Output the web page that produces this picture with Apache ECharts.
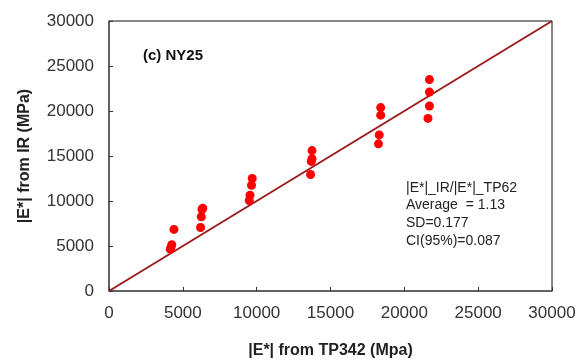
<!DOCTYPE html>
<html><head><meta charset="utf-8">
<script src="https://cdn.jsdelivr.net/npm/echarts@6/dist/echarts.min.js"></script>
<style>html,body{margin:0;padding:0;background:#fff}#c{width:588px;height:364px}</style>
</head><body><div id="c"></div>
<script>
var tp342 = [4400,4250,4200,4150, 6350,6300,6250,6200, 9700,9650,9550,9500, 13750,13750,13700,13650, 18400,18400,18300,18250, 21700,21700,21700,21600];
var irValues = [6840,5150,4850,4650, 9200,9050,8250,7050, 12500,11750,10650,10050, 15600,14700,14400,12950, 20380,19540,17340,16350, 23490,22100,20560,19180];
var lineOfEquality = [[0,0],[30000,30000]];
var axisTicks = [0,5000,10000,15000,20000,25000,30000];
var panelLabel = '(c) NY25';
var statsLines = ['|E*|_IR/|E*|_TP62','Average  = 1.13','SD=0.177','CI(95%)=0.087'];

var pts = tp342.map(function(x,i){return [x, irValues[i]];});
var chart = echarts.init(document.getElementById('c'));
var font = 'Liberation Sans, Arial, sans-serif';
var axisCommon = {
  min: axisTicks[0], max: axisTicks[axisTicks.length-1], interval: 5000,
  axisLine: {show: true, onZero: false, lineStyle: {color: '#555', width: 1.5}},
  axisTick: {show: true, inside: true, length: 4, lineStyle: {color: '#333'}},
  splitLine: {show: false},
  axisLabel: {color: '#333', fontSize: 17, fontFamily: font, formatter: function(v){return String(v);}},
  nameTextStyle: {color: '#222', fontSize: 16, fontWeight: 'bold', fontFamily: font}
};
chart.setOption({
  animation: false,
  grid: {left: 109, right: 36, top: 21, bottom: 70, show: true, borderColor: '#111', borderWidth: 1},
  xAxis: Object.assign({}, axisCommon, {type: 'value', name: '|E*| from TP342 (Mpa)', nameLocation: 'middle', nameGap: 52,
    axisLabel: Object.assign({}, axisCommon.axisLabel, {margin: 14})}),
  yAxis: Object.assign({}, axisCommon, {type: 'value', name: '|E*| from IR (MPa)', nameLocation: 'middle', nameGap: 76,
    axisLabel: Object.assign({}, axisCommon.axisLabel, {margin: 15})}),
  graphic: [
    {type: 'text', left: 143, top: 48, style: {text: panelLabel, font: 'bold 15px ' + font, fill: '#111'}},
    {type: 'text', left: 406, top: 179, style: {text: statsLines.join('\n'), font: '14px ' + font, fill: '#222', lineHeight: 17.7}}
  ],
  series: [
    {type: 'line', data: lineOfEquality, symbol: 'none', lineStyle: {color: '#9b1c1c', width: 2}, z: 2},
    {type: 'scatter', data: pts, symbol: 'circle', symbolSize: 9, itemStyle: {color: '#ff0000', opacity: 1}, z: 3}
  ]
});
</script></body></html>
